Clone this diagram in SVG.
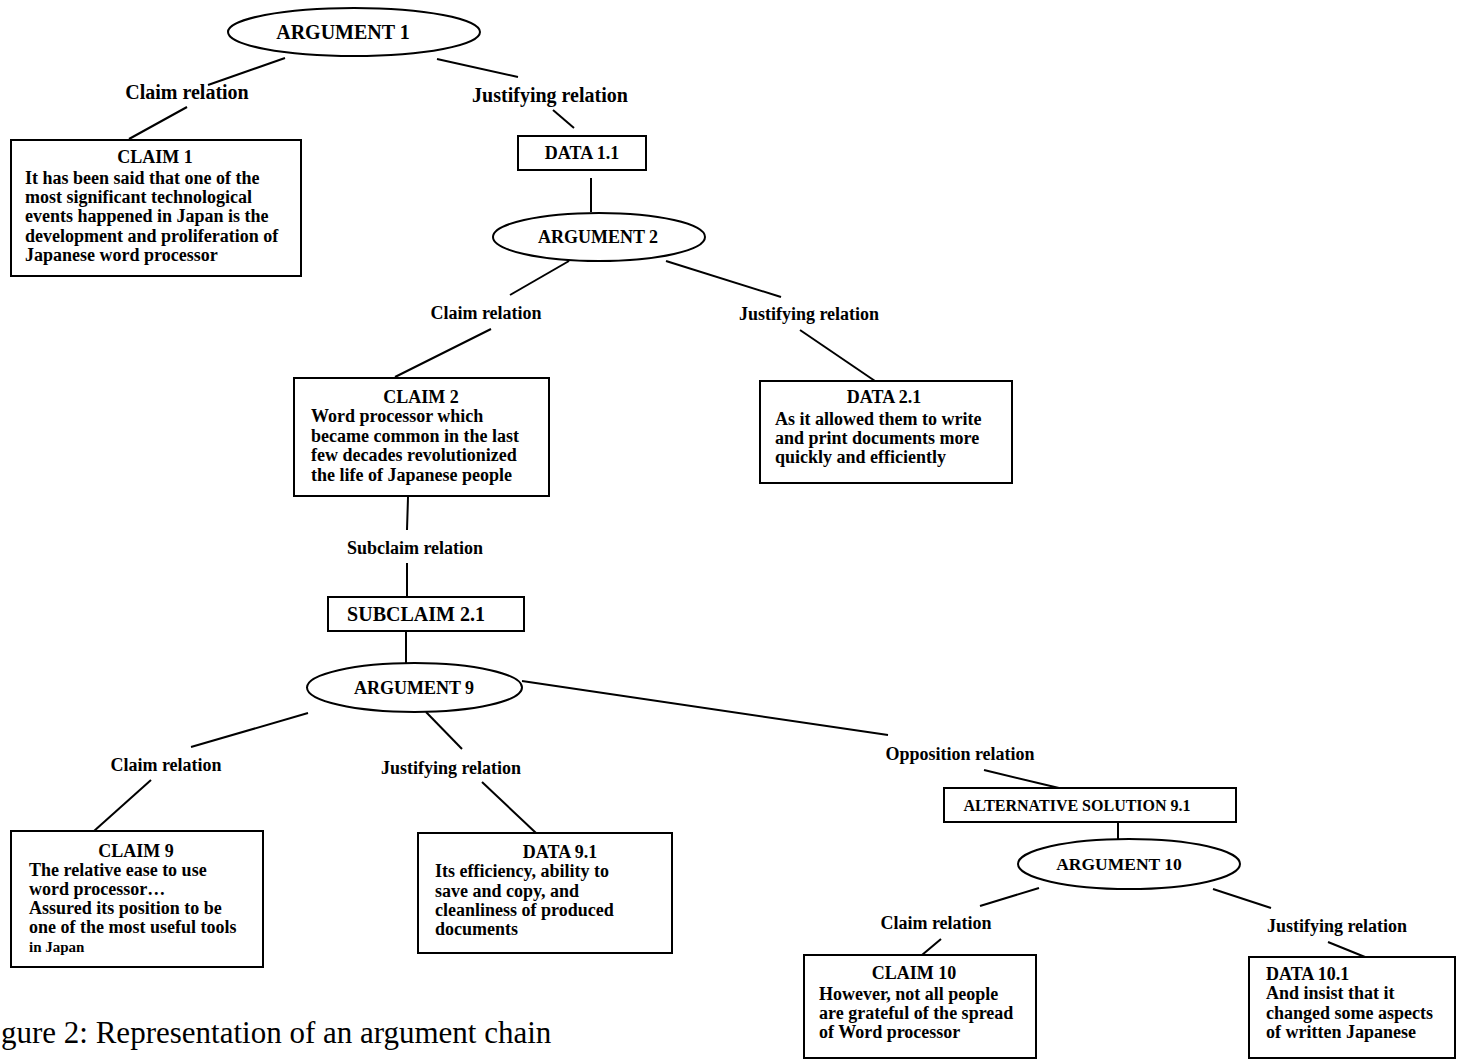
<svg xmlns="http://www.w3.org/2000/svg" width="1461" height="1064" viewBox="0 0 1461 1064">
<style>
  .bg { fill: #ffffff; }
  .node { fill: #ffffff; stroke: #000000; stroke-width: 2; }
  .conn line { stroke: #000000; stroke-width: 2; }
  text { font-family: "Liberation Serif", "Times New Roman", serif; fill: #000000; font-weight: bold; }
  .h { font-size: 18px; text-anchor: middle; }
  .b { font-size: 18px; }
  .lbl { font-size: 18px; text-anchor: middle; }
  .lbl20 { font-size: 20px; text-anchor: middle; }
  .arg { font-size: 18px; text-anchor: middle; }
  .cap { font-size: 31px; font-weight: normal; }
</style>
<rect class="bg" x="0" y="0" width="1461" height="1064"/>

<g id="connectors" class="conn">
  <line x1="285" y1="58" x2="208" y2="85"/>
  <line x1="187" y1="107" x2="129" y2="139"/>
  <line x1="437" y1="59" x2="518" y2="77"/>
  <line x1="553" y1="110" x2="574" y2="128"/>
  <line x1="591" y1="178" x2="591" y2="212"/>
  <line x1="569" y1="261" x2="510" y2="295"/>
  <line x1="491" y1="329" x2="395" y2="377"/>
  <line x1="666" y1="261" x2="781" y2="297"/>
  <line x1="800" y1="330" x2="875" y2="381"/>
  <line x1="408" y1="497" x2="407" y2="530"/>
  <line x1="407" y1="563" x2="407" y2="597"/>
  <line x1="406" y1="631" x2="406" y2="663"/>
  <line x1="308" y1="713" x2="191" y2="747"/>
  <line x1="426" y1="712" x2="462" y2="749"/>
  <line x1="522" y1="681" x2="888" y2="735"/>
  <line x1="151" y1="780" x2="94" y2="831"/>
  <line x1="482" y1="782" x2="536" y2="833"/>
  <line x1="984" y1="770" x2="1059" y2="788"/>
  <line x1="1118" y1="822" x2="1118" y2="839"/>
  <line x1="1039" y1="888" x2="980" y2="906"/>
  <line x1="941" y1="939" x2="922" y2="955"/>
  <line x1="1213" y1="889" x2="1271" y2="908"/>
  <line x1="1328" y1="942" x2="1365" y2="957"/>
</g>

<g id="labels">
  <text class="lbl20" x="187" y="99">Claim relation</text>
  <text class="lbl20" x="550" y="102">Justifying relation</text>
  <text class="lbl" x="486" y="319">Claim relation</text>
  <text class="lbl" x="809" y="320">Justifying relation</text>
  <text class="lbl" x="415" y="554">Subclaim relation</text>
  <text class="lbl" x="166" y="771">Claim relation</text>
  <text class="lbl" x="451" y="774">Justifying relation</text>
  <text class="lbl" x="960" y="760">Opposition relation</text>
  <text class="lbl" x="936" y="929">Claim relation</text>
  <text class="lbl" x="1337" y="932">Justifying relation</text>
</g>

<g id="argument1">
  <ellipse class="node" cx="354" cy="32" rx="126" ry="24"/>
  <text class="arg" x="343" y="39" style="font-size:20px">ARGUMENT 1</text>
</g>

<g id="claim1">
  <rect class="node" x="11" y="140" width="290" height="136"/>
  <text class="h" x="155" y="163">CLAIM 1</text>
  <text class="b" x="25" y="184">It has been said that one of the</text>
  <text class="b" x="25" y="203">most significant technological</text>
  <text class="b" x="25" y="222">events happened in Japan is the</text>
  <text class="b" x="25" y="242">development and proliferation of</text>
  <text class="b" x="25" y="261">Japanese word processor</text>
</g>

<g id="data1-1">
  <rect class="node" x="518" y="136" width="128" height="34"/>
  <text class="h" x="582" y="159">DATA 1.1</text>
</g>

<g id="argument2">
  <ellipse class="node" cx="599" cy="237" rx="106" ry="24"/>
  <text class="arg" x="598" y="243">ARGUMENT 2</text>
</g>

<g id="claim2">
  <rect class="node" x="294" y="378" width="255" height="118"/>
  <text class="h" x="421" y="403">CLAIM 2</text>
  <text class="b" x="311" y="422">Word processor which</text>
  <text class="b" x="311" y="442">became common in the last</text>
  <text class="b" x="311" y="461">few decades revolutionized</text>
  <text class="b" x="311" y="481">the life of Japanese people</text>
</g>

<g id="data2-1">
  <rect class="node" x="760" y="381" width="252" height="102"/>
  <text class="h" x="884" y="403">DATA 2.1</text>
  <text class="b" x="775" y="425">As it allowed them to write</text>
  <text class="b" x="775" y="444">and print documents more</text>
  <text class="b" x="775" y="463">quickly and efficiently</text>
</g>

<g id="subclaim2-1">
  <rect class="node" x="328" y="597" width="196" height="34"/>
  <text class="h" x="416" y="621" style="font-size:20px">SUBCLAIM 2.1</text>
</g>

<g id="argument9">
  <ellipse class="node" cx="414.5" cy="687.5" rx="107.5" ry="24.5"/>
  <text class="arg" x="414" y="694">ARGUMENT 9</text>
</g>

<g id="claim9">
  <rect class="node" x="11" y="831" width="252" height="136"/>
  <text class="h" x="136" y="857">CLAIM 9</text>
  <text class="b" x="29" y="876">The relative ease to use</text>
  <text class="b" x="29" y="895">word processor…</text>
  <text class="b" x="29" y="914">Assured its position to be</text>
  <text class="b" x="29" y="933">one of the most useful tools</text>
  <text class="b" x="29" y="952" style="font-size:15px">in Japan</text>
</g>

<g id="data9-1">
  <rect class="node" x="418" y="833" width="254" height="120"/>
  <text class="h" x="560" y="858">DATA 9.1</text>
  <text class="b" x="435" y="877">Its efficiency, ability to</text>
  <text class="b" x="435" y="897">save and copy, and</text>
  <text class="b" x="435" y="916">cleanliness of produced</text>
  <text class="b" x="435" y="935">documents</text>
</g>

<g id="alternative-solution9-1">
  <rect class="node" x="944" y="788" width="292" height="34"/>
  <text class="h" x="1077" y="811" style="font-size:16px">ALTERNATIVE SOLUTION 9.1</text>
</g>

<g id="argument10">
  <ellipse class="node" cx="1129" cy="864" rx="111" ry="25"/>
  <text class="arg" x="1119" y="870" style="font-size:17.5px">ARGUMENT 10</text>
</g>

<g id="claim10">
  <rect class="node" x="804" y="955" width="232" height="103"/>
  <text class="h" x="914" y="979">CLAIM 10</text>
  <text class="b" x="819" y="1000">However, not all people</text>
  <text class="b" x="819" y="1019">are grateful of the spread</text>
  <text class="b" x="819" y="1038">of Word processor</text>
</g>

<g id="data10-1">
  <rect class="node" x="1249" y="957" width="206" height="101"/>
  <text class="b" x="1266" y="980">DATA 10.1</text>
  <text class="b" x="1266" y="999">And insist that it</text>
  <text class="b" x="1266" y="1019">changed some aspects</text>
  <text class="b" x="1266" y="1038">of written Japanese</text>
</g>

<g id="caption">
  <text class="cap" x="1" y="1043">gure 2: Representation of an argument chain</text>
</g>
</svg>
